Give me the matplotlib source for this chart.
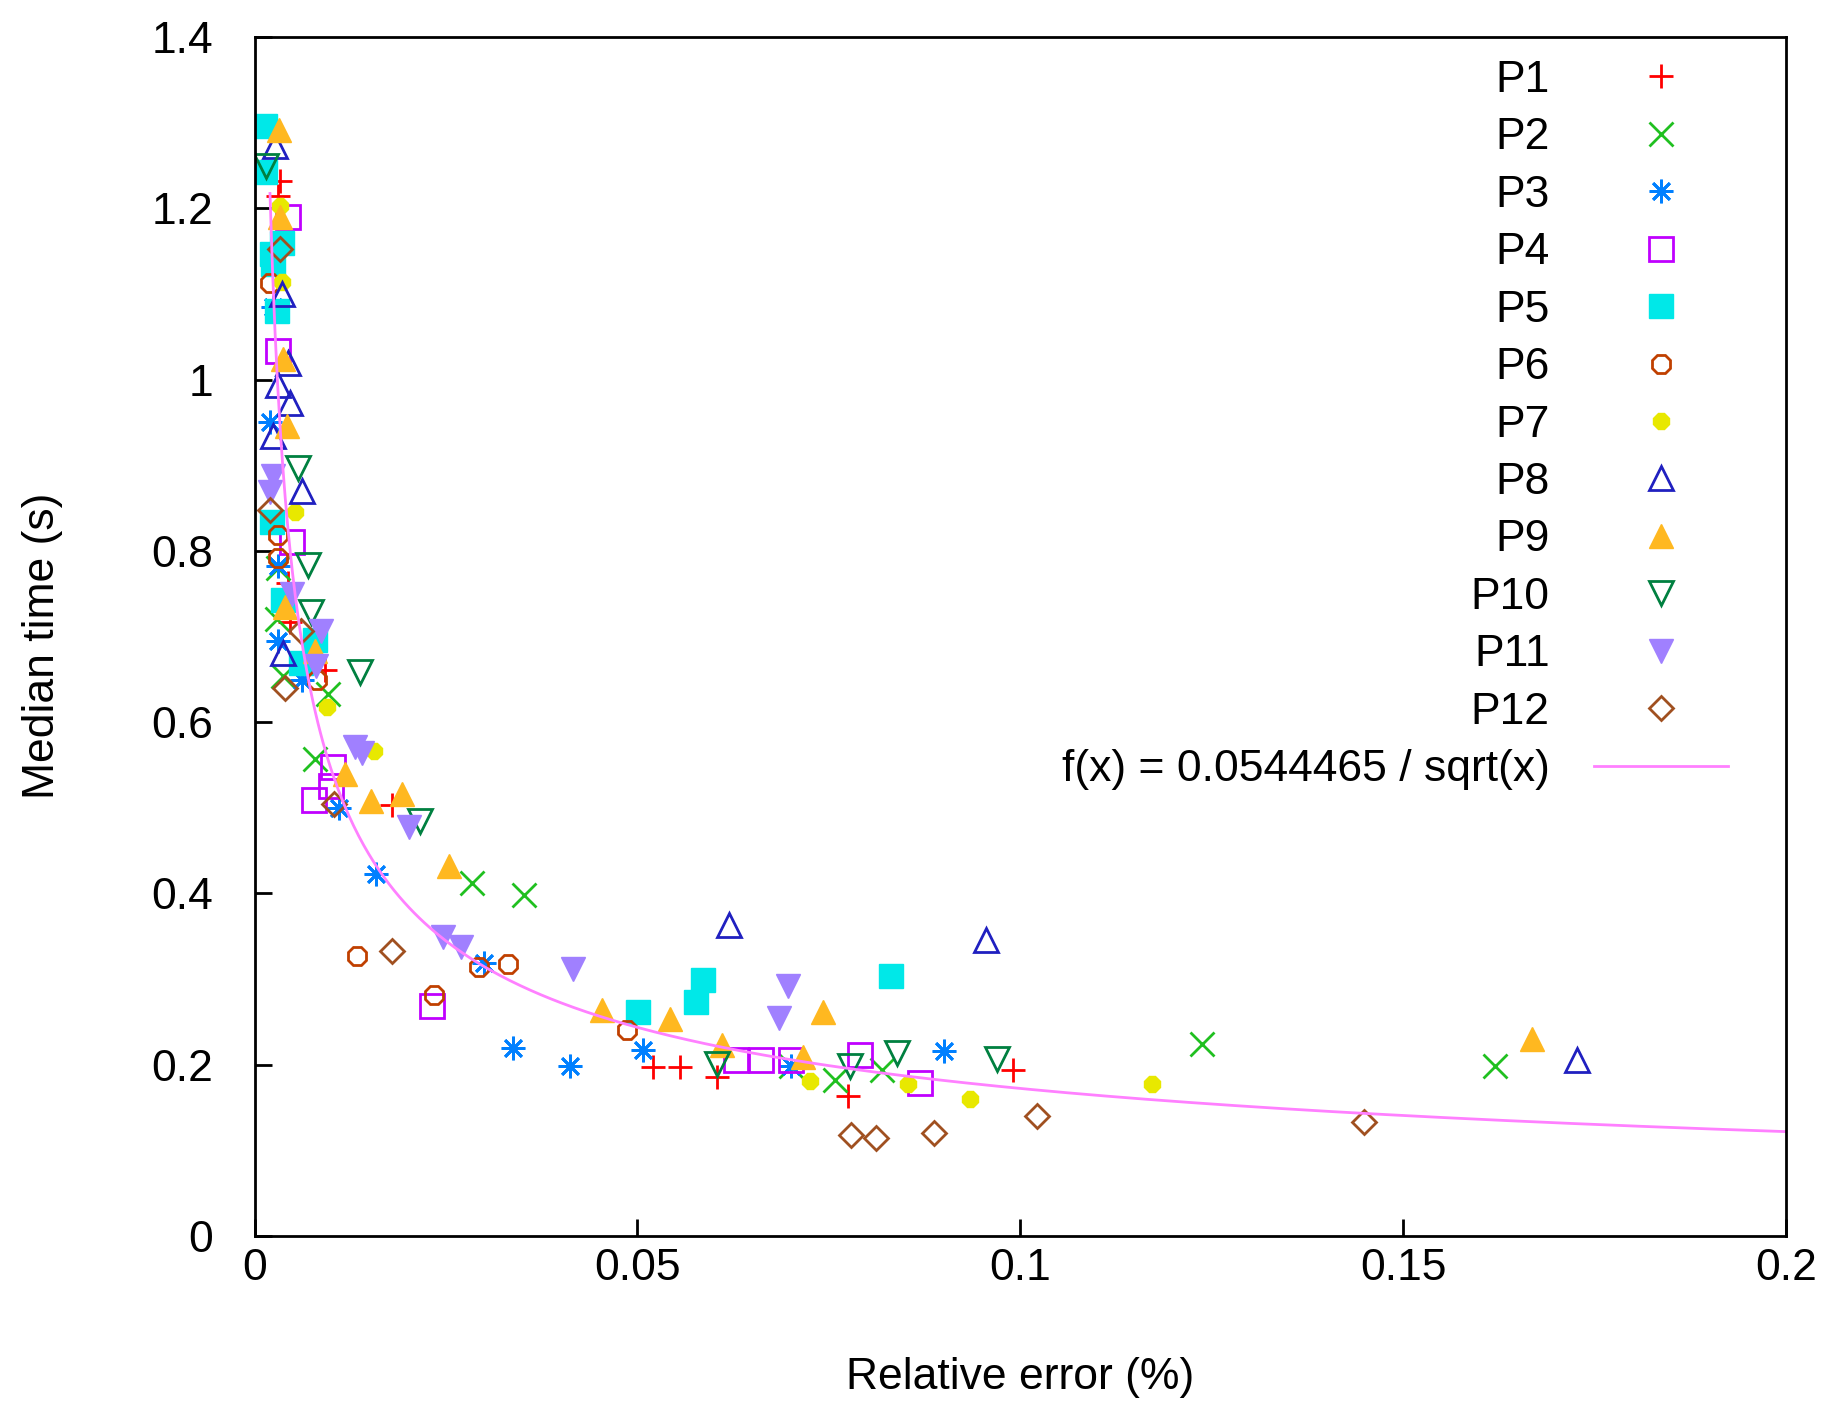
import numpy as np
import matplotlib.pyplot as plt

plt.rcParams['font.family'] = ['Liberation Sans', 'DejaVu Sans']

# relative error (%) and median time (s) per problem
p1_x = [0.0033, 0.0030, 0.0044, 0.0046, 0.0092, 0.0180, 0.0520, 0.0556, 0.0604, 0.0775, 0.0990]
p1_y = [1.232, 1.215, 0.763, 0.717, 0.661, 0.503, 0.197, 0.197, 0.185, 0.163, 0.194]

p2_x = [0.0030, 0.0029, 0.0037, 0.0079, 0.0096, 0.0284, 0.0352, 0.0700, 0.0758, 0.0820, 0.1238, 0.1620]
p2_y = [0.780, 0.720, 0.654, 0.557, 0.633, 0.412, 0.398, 0.198, 0.182, 0.194, 0.224, 0.198]

p3_x = [0.0024, 0.0020, 0.0030, 0.0031, 0.0062, 0.0110, 0.0159, 0.0300, 0.0337, 0.0412, 0.0507, 0.0700, 0.0900]
p3_y = [1.085, 0.950, 0.782, 0.695, 0.649, 0.500, 0.423, 0.319, 0.219, 0.198, 0.217, 0.198, 0.216]

p4_x = [0.0044, 0.0031, 0.0049, 0.0077, 0.0102, 0.0100, 0.0231, 0.0629, 0.0662, 0.0700, 0.0791, 0.0869]
p4_y = [1.190, 1.033, 0.810, 0.509, 0.548, 0.525, 0.268, 0.205, 0.205, 0.205, 0.211, 0.178]

p5_x = [0.0014, 0.0014, 0.0023, 0.0024, 0.0036, 0.0029, 0.0023, 0.0037, 0.0060, 0.0079, 0.0501, 0.0576, 0.0586, 0.0831]
p5_y = [1.296, 1.243, 1.147, 1.135, 1.160, 1.080, 0.834, 0.743, 0.669, 0.696, 0.262, 0.273, 0.299, 0.303]

p6_x = [0.0020, 0.0030, 0.0030, 0.0082, 0.0134, 0.0234, 0.0293, 0.0331, 0.0486]
p6_y = [1.113, 0.819, 0.792, 0.649, 0.327, 0.281, 0.314, 0.318, 0.240]

p7_x = [0.0033, 0.0036, 0.0053, 0.0094, 0.0156, 0.0726, 0.0853, 0.0934, 0.1172]
p7_y = [1.203, 1.114, 0.845, 0.618, 0.566, 0.181, 0.177, 0.160, 0.177]

p8_x = [0.0027, 0.0036, 0.0044, 0.0030, 0.0046, 0.0024, 0.0062, 0.0037, 0.0620, 0.0955, 0.1727]
p8_y = [1.273, 1.100, 1.020, 0.994, 0.973, 0.934, 0.870, 0.681, 0.363, 0.346, 0.205]

p9_x = [0.0032, 0.0033, 0.0037, 0.0042, 0.0040, 0.0079, 0.0118, 0.0152, 0.0193, 0.0254,
        0.0454, 0.0542, 0.0610, 0.0716, 0.0743, 0.1669]
p9_y = [1.291, 1.190, 1.024, 0.946, 0.735, 0.683, 0.540, 0.508, 0.516, 0.432,
        0.264, 0.253, 0.223, 0.209, 0.261, 0.230]

p10_x = [0.0015, 0.0057, 0.0070, 0.0073, 0.0137, 0.0216, 0.0604, 0.0778, 0.0839, 0.0970]
p10_y = [1.249, 0.897, 0.783, 0.729, 0.659, 0.485, 0.201, 0.198, 0.214, 0.206]

p11_x = [0.0024, 0.0020, 0.0049, 0.0087, 0.0080, 0.0131, 0.0140, 0.0202, 0.0246, 0.0270,
         0.0416, 0.0685, 0.0697]
p11_y = [0.887, 0.869, 0.750, 0.706, 0.666, 0.571, 0.564, 0.477, 0.349, 0.337,
         0.312, 0.254, 0.292]

p12_x = [0.0033, 0.0020, 0.0060, 0.0039, 0.0103, 0.0180, 0.0779, 0.0811, 0.0888, 0.1022, 0.1449]
p12_y = [1.153, 0.848, 0.707, 0.640, 0.504, 0.333, 0.118, 0.114, 0.120, 0.140, 0.133]

fit_a = 0.0544465

series = [
    ('P1', p1_x, p1_y, '+', '#ff0000', True),
    ('P2', p2_x, p2_y, 'x', '#20c020', True),
    ('P3', p3_x, p3_y, (8, 2, 0), '#0080ff', True),
    ('P4', p4_x, p4_y, 's', '#c000ff', False),
    ('P5', p5_x, p5_y, 's', '#00e8e8', True),
    ('P6', p6_x, p6_y, '8', '#c04000', False),
    ('P7', p7_x, p7_y, '8', '#e8e800', True),
    ('P8', p8_x, p8_y, '^', '#2020c0', False),
    ('P9', p9_x, p9_y, '^', '#ffb820', True),
    ('P10', p10_x, p10_y, 'v', '#008040', False),
    ('P11', p11_x, p11_y, 'v', '#a080ff', True),
    ('P12', p12_x, p12_y, 'D', '#a05020', False),
]

fs = 32

fig = plt.figure(figsize=(18.23, 14.02), dpi=100)
ax = fig.add_axes([0.1397, 0.1185, 0.8399, 0.855])

for name, xs, ys, mk, col, filled in series:
    size = 17
    if mk == 'D':
        size = 12
    elif mk == '8' and filled:
        size = 13
    elif mk == '8':
        size = 14
    if filled and mk not in ('+', 'x') and not isinstance(mk, tuple):
        ax.plot(xs, ys, linestyle='none', marker=mk, markersize=size,
                color=col, markeredgecolor=col, label=name)
    else:
        ax.plot(xs, ys, linestyle='none', marker=mk, markersize=size,
                markerfacecolor='none', markeredgecolor=col, markeredgewidth=2,
                label=name)

xf = np.linspace(0.002, 0.2, 600)
ax.plot(xf, fit_a / np.sqrt(xf), color='#ff80ff', lw=2,
        label='f(x) = 0.0544465 / sqrt(x)')

ax.set_xlim(0, 0.2)
ax.set_ylim(0, 1.4)
ax.set_xticks([0, 0.05, 0.1, 0.15, 0.2])
ax.set_xticklabels(['0', '0.05', '0.1', '0.15', '0.2'])
ax.set_yticks([0, 0.2, 0.4, 0.6, 0.8, 1.0, 1.2, 1.4])
ax.set_yticklabels(['0', '0.2', '0.4', '0.6', '0.8', '1', '1.2', '1.4'])
ax.tick_params(direction='in', length=12, width=2, labelsize=fs)
ax.tick_params(axis='x', pad=9)
ax.tick_params(axis='y', pad=30)
for s in ax.spines.values():
    s.set_linewidth(2)

ax.set_xlabel('Relative error (%)', fontsize=fs)
ax.set_ylabel('Median time (s)', fontsize=fs)
ax.xaxis.set_label_coords(0.5, -0.118)
ax.xaxis.label.set_va('center')
ax.yaxis.set_label_coords(-0.1385, 0.492)
ax.yaxis.label.set_va('center')

leg = ax.legend(loc='upper right', bbox_to_anchor=(0.962, 0.981), frameon=False,
                markerfirst=False, fontsize=fs, handlelength=3.0, handletextpad=1.0,
                labelspacing=0.37, borderaxespad=0, borderpad=0, numpoints=1)

fig.savefig('out.png', dpi=100)
